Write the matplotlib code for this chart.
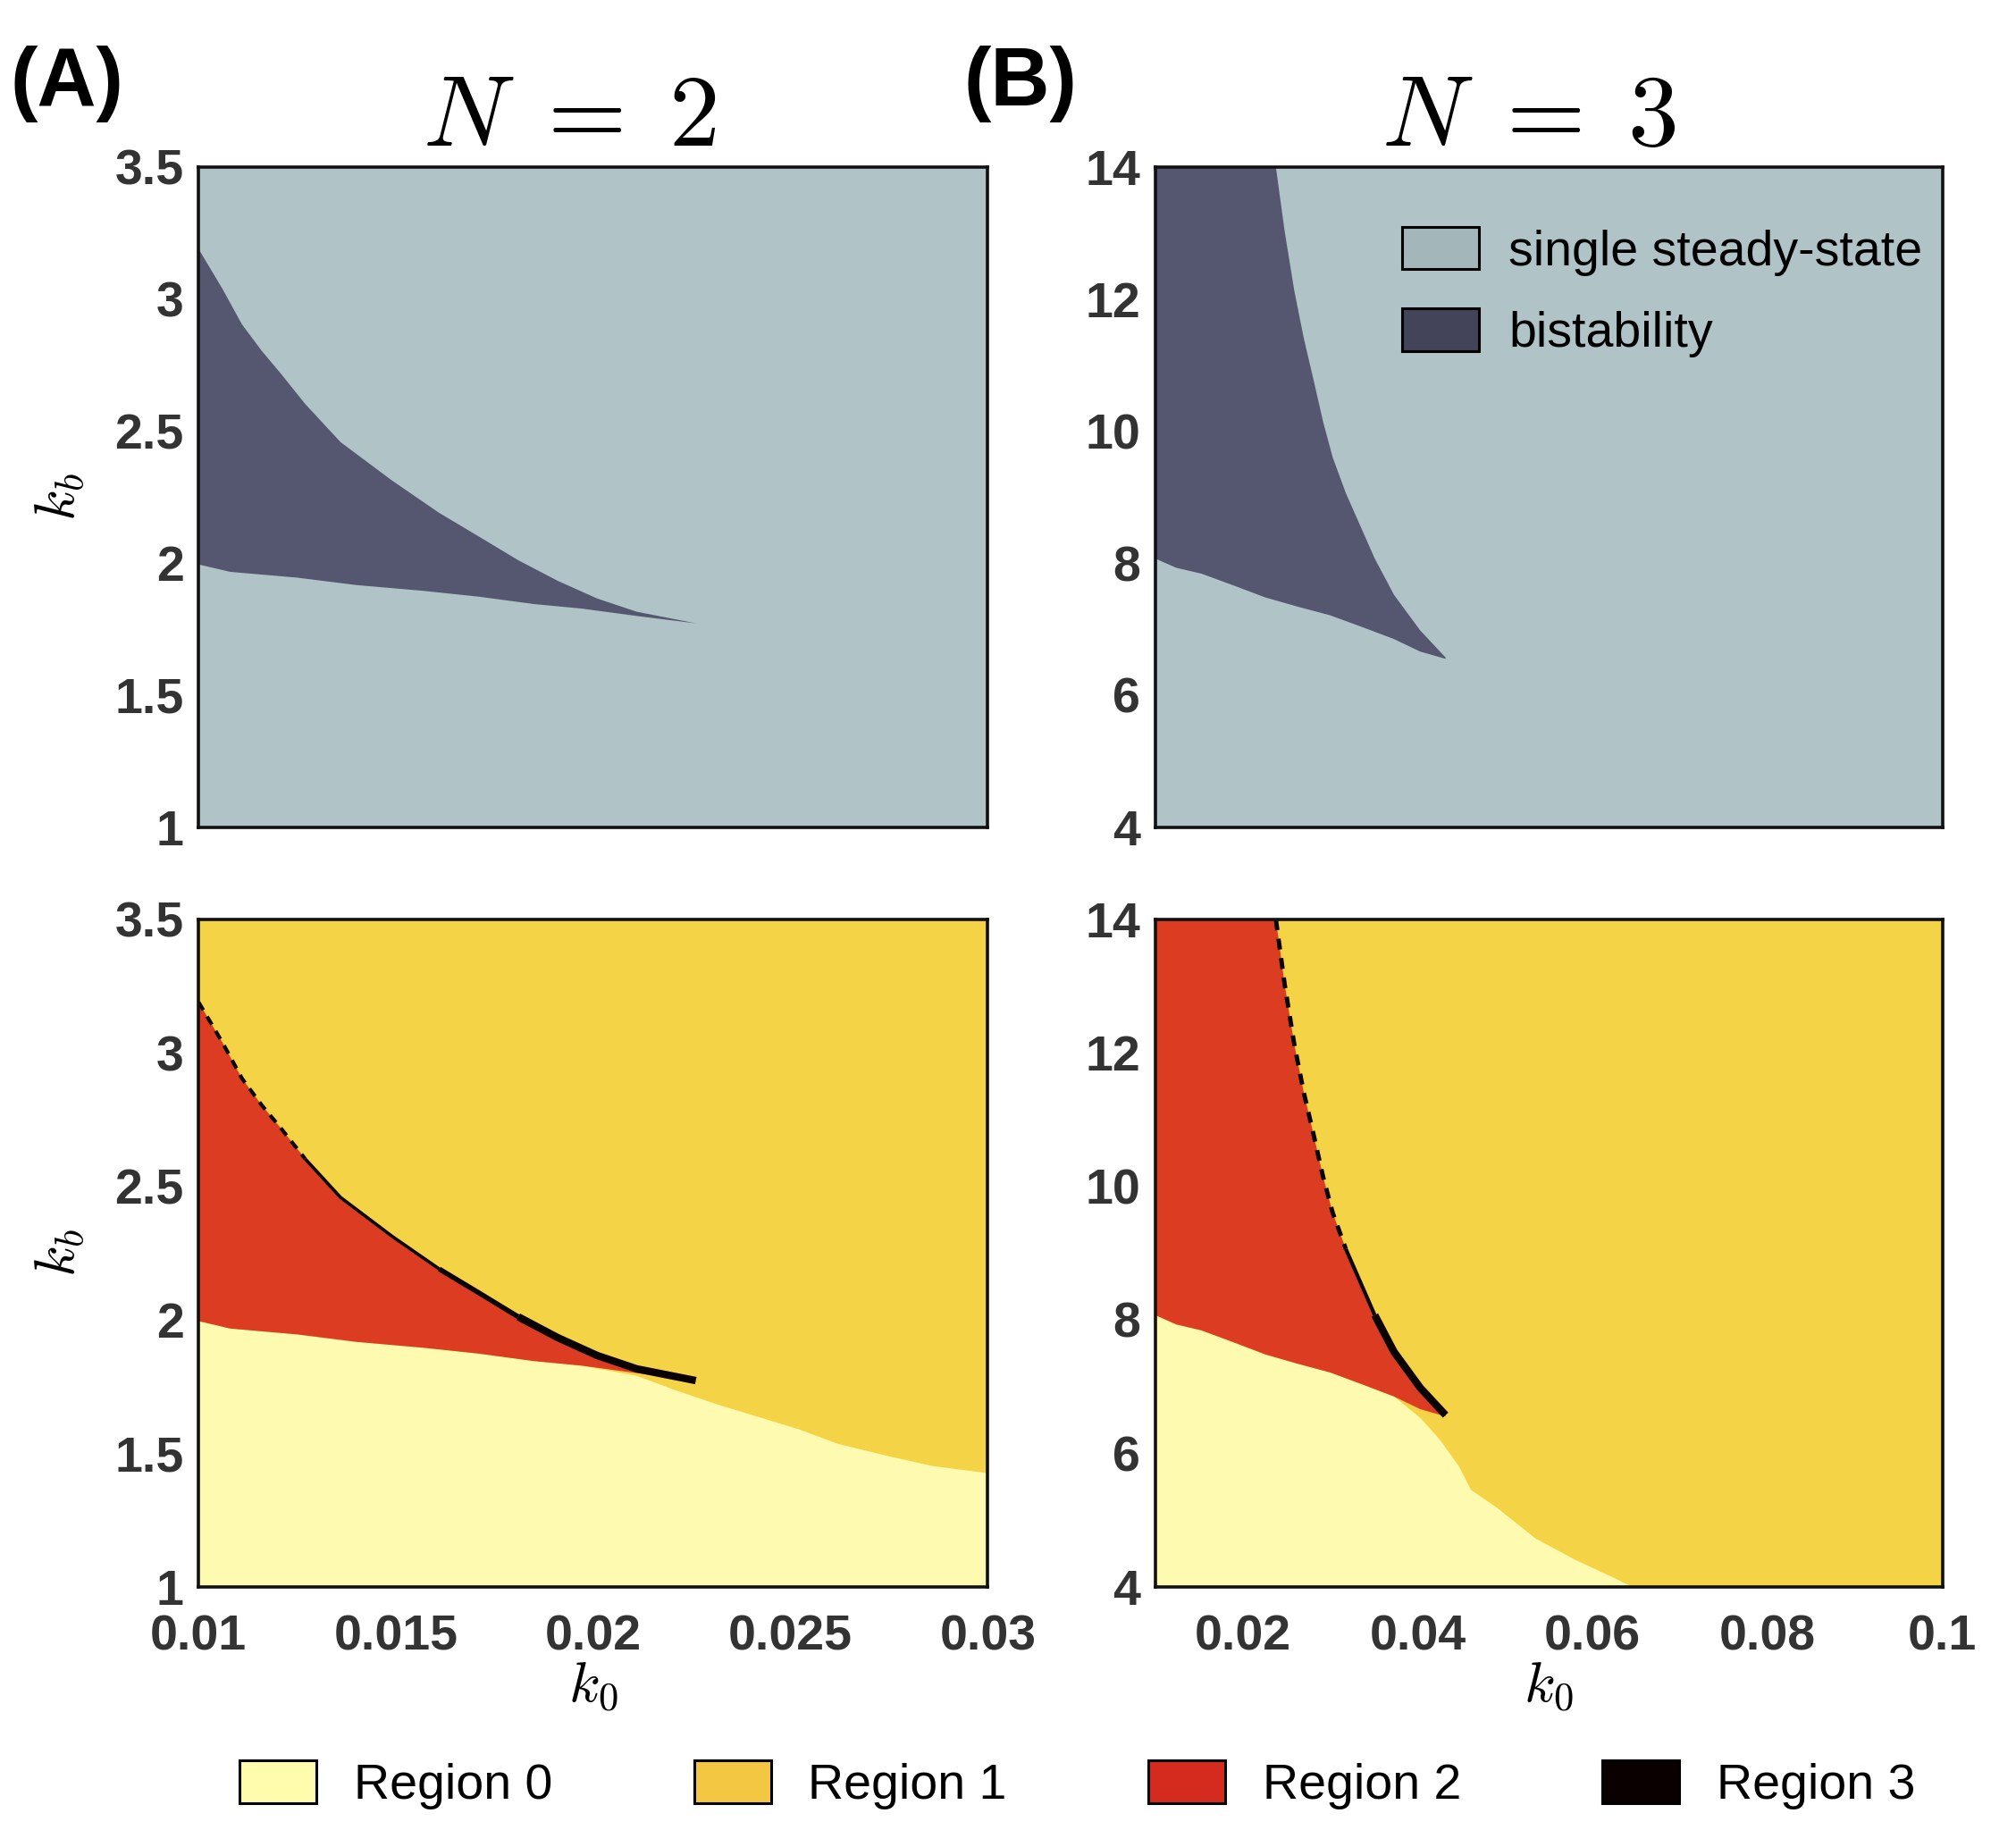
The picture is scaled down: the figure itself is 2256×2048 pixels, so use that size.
import matplotlib
matplotlib.use("Agg")
import matplotlib.pyplot as plt
from matplotlib.patches import Patch

plt.rcParams['font.family'] = ['Liberation Sans', 'DejaVu Sans']
plt.rcParams['mathtext.fontset'] = 'cm'

# ---------------- data ----------------
# N = 2 : boundaries in (k0, kb)
a_upper_k0 = [0.0100, 0.0106, 0.0111, 0.0116, 0.0121, 0.0127, 0.0136, 0.0149, 0.0161,
              0.0171, 0.0181, 0.0191, 0.0201, 0.0211, 0.0226]
a_upper_kb = [3.19, 3.04, 2.904, 2.804, 2.715, 2.603, 2.458, 2.313, 2.19,
              2.101, 2.011, 1.933, 1.866, 1.816, 1.772]
a_lower_k0 = [0.0100, 0.0108, 0.0125, 0.0140, 0.0157, 0.0171, 0.0185, 0.0197, 0.0211, 0.0226]
a_lower_kb = [1.995, 1.967, 1.945, 1.917, 1.895, 1.873, 1.845, 1.828, 1.80, 1.772]
a_r0_k0 = [0.0100, 0.0108, 0.0125, 0.0140, 0.0157, 0.0171, 0.0185, 0.0197, 0.0211,
           0.0221, 0.0232, 0.0242, 0.0252, 0.0262, 0.0275, 0.0286, 0.0300]
a_r0_kb = [1.995, 1.967, 1.945, 1.917, 1.895, 1.873, 1.845, 1.828, 1.79,
           1.735, 1.68, 1.635, 1.59, 1.535, 1.488, 1.452, 1.425]

# N = 3
b_upper_k0 = [0.0100, 0.0238, 0.0248, 0.0259, 0.0270, 0.0281, 0.0292, 0.0303, 0.0318,
              0.0333, 0.0351, 0.0373, 0.0403, 0.0432]
b_upper_kb = [14.0, 14.0, 13.03, 12.13, 11.4, 10.78, 10.14, 9.6, 9.06,
              8.61, 8.07, 7.52, 6.98, 6.57]
b_lower_k0 = [0.0100, 0.0124, 0.0153, 0.0190, 0.0226, 0.0263, 0.0300, 0.0337, 0.0373, 0.0403, 0.0432]
b_lower_kb = [8.07, 7.93, 7.84, 7.66, 7.48, 7.34, 7.21, 7.03, 6.85, 6.66, 6.55]
b_r0_k0 = [0.0100, 0.0124, 0.0153, 0.0190, 0.0226, 0.0263, 0.0300, 0.0337, 0.0373, 0.0403,
           0.0425, 0.0447, 0.0461, 0.0491, 0.0535, 0.0579, 0.0623, 0.0645]
b_r0_kb = [8.07, 7.93, 7.84, 7.66, 7.48, 7.34, 7.21, 7.03, 6.85, 6.53,
           6.21, 5.81, 5.45, 5.18, 4.72, 4.41, 4.14, 4.0]

a_xlim = (0.01, 0.03)
a_ylim = (1.0, 3.5)
b_xlim = (0.01, 0.1)
b_ylim = (4.0, 14.0)
a_xticks = [0.01, 0.015, 0.02, 0.025, 0.03]
a_xticklabels = ["0.01", "0.015", "0.02", "0.025", "0.03"]
a_yticks = [1, 1.5, 2, 2.5, 3, 3.5]
a_yticklabels = ["1", "1.5", "2", "2.5", "3", "3.5"]
b_xticks = [0.02, 0.04, 0.06, 0.08, 0.1]
b_xticklabels = ["0.02", "0.04", "0.06", "0.08", "0.1"]
b_yticks = [4, 6, 8, 10, 12, 14]
b_yticklabels = ["4", "6", "8", "10", "12", "14"]

stab_labels = ["single steady-state", "bistability"]
region_labels = ["Region 0", "Region 1", "Region 2", "Region 3"]

# ---------------- style ----------------
C_SINGLE = '#B0C3C7'
C_BISTAB = '#55566F'
C_SINGLE_LEG = '#A3B6BA'
C_BISTAB_LEG = '#43445A'
C_R0 = '#FEFBB1'
C_R1 = '#F5D347'
C_R2 = '#DC3C22'
C_R3 = '#0A0000'
C_R0_LEG = '#FFFCAE'
C_R1_LEG = '#F4C743'
C_R2_LEG = '#D52B1E'
C_R3_LEG = '#0A0000'
TICK_C = '#333333'

fig = plt.figure(figsize=(22.56, 20.48), dpi=100)

axL = 0.0985
axR_A = 0.490
axL_B = 0.573
axR_B = 0.9635
top_top = 0.9087
top_bot = 0.548
bot_top = 0.4976
bot_bot = 0.133

axA1 = fig.add_axes([axL, top_bot, axR_A - axL, top_top - top_bot])
axB1 = fig.add_axes([axL_B, top_bot, axR_B - axL_B, top_top - top_bot])
axA2 = fig.add_axes([axL, bot_bot, axR_A - axL, bot_top - bot_bot])
axB2 = fig.add_axes([axL_B, bot_bot, axR_B - axL_B, bot_top - bot_bot])


def style(ax, xlim, ylim, xt, xtl, yt, ytl, show_x):
    ax.set_xlim(*xlim)
    ax.set_ylim(*ylim)
    ax.set_yticks(yt)
    ax.set_yticklabels(ytl)
    if show_x:
        ax.set_xticks(xt)
        ax.set_xticklabels(xtl)
    else:
        ax.set_xticks([])
    ax.tick_params(length=0, labelsize=40, labelcolor=TICK_C)
    ax.tick_params(axis='y', pad=12)
    ax.tick_params(axis='x', pad=22)
    for lab in ax.get_xticklabels() + ax.get_yticklabels():
        lab.set_fontweight('bold')
    for sp in ax.spines.values():
        sp.set_linewidth(2.6)
        sp.set_color('#111111')
        sp.set_zorder(10)


def polygon(upper_x, upper_y, lower_x, lower_y):
    px = list(upper_x) + list(lower_x)[::-1]
    py = list(upper_y) + list(lower_y)[::-1]
    return px, py


# ---- top panels (stability) ----
for ax, ux, uy, lx, ly in [
        (axA1, a_upper_k0, a_upper_kb, a_lower_k0, a_lower_kb),
        (axB1, b_upper_k0, b_upper_kb, b_lower_k0, b_lower_kb)]:
    ax.set_facecolor(C_SINGLE)
    px, py = polygon(ux, uy, lx, ly)
    ax.fill(px, py, color=C_BISTAB, lw=0)

# ---- bottom panels (regions) ----
# segments of the region-3 sliver: (start index, end index, linewidth, dashed)
a_r3_style = [(0, 5, 3.0, True), (5, 8, 2.6, False), (8, 10, 4.0, False), (10, 14, 6.0, False)]
b_r3_style = [(1, 8, 3.5, True), (8, 10, 3.0, False), (10, 13, 6.0, False)]

for ax, ux, uy, lx, ly, r0x, r0y, yl, segs in [
        (axA2, a_upper_k0, a_upper_kb, a_lower_k0, a_lower_kb, a_r0_k0, a_r0_kb, a_ylim, a_r3_style),
        (axB2, b_upper_k0, b_upper_kb, b_lower_k0, b_lower_kb, b_r0_k0, b_r0_kb, b_ylim, b_r3_style)]:
    ax.set_facecolor(C_R1)
    # region 0
    r0px = [r0x[0]] + list(r0x) + [r0x[-1]]
    r0py = [yl[0]] + list(r0y) + [yl[0]]
    ax.fill(r0px, r0py, color=C_R0, lw=0)
    # region 2
    px, py = polygon(ux, uy, lx, ly)
    ax.fill(px, py, color=C_R2, lw=0)
    # region 3 along the upper boundary
    for s, e, lw, dashed in segs:
        kw = dict(color=C_R3, lw=lw, solid_capstyle='butt')
        if dashed:
            kw['dashes'] = (2.5, 2.0)
        ax.plot(ux[s:e + 1], uy[s:e + 1], **kw)

style(axA1, a_xlim, a_ylim, a_xticks, a_xticklabels, a_yticks, a_yticklabels, False)
style(axB1, b_xlim, b_ylim, b_xticks, b_xticklabels, b_yticks, b_yticklabels, False)
style(axA2, a_xlim, a_ylim, a_xticks, a_xticklabels, a_yticks, a_yticklabels, True)
style(axB2, b_xlim, b_ylim, b_xticks, b_xticklabels, b_yticks, b_yticklabels, True)

for ax in (axA1, axA2):
    ax.set_ylabel(r'$k_b$', fontsize=46, labelpad=22)
for ax in (axA2, axB2):
    ax.set_xlabel(r'$k_0$', fontsize=46, labelpad=0)

axA1.set_title(r'$N\;=\;2$', fontsize=82, pad=8, x=0.47)
axB1.set_title(r'$N\;=\;3$', fontsize=82, pad=8, x=0.475)

fig.text(0.005, 0.975, '(A)', fontsize=66, fontweight='bold', va='top', ha='left')
fig.text(0.478, 0.975, '(B)', fontsize=66, fontweight='bold', va='top', ha='left')

# legend in top-right panel
h_stab = [Patch(facecolor=C_SINGLE_LEG, edgecolor='black', lw=2.2),
          Patch(facecolor=C_BISTAB_LEG, edgecolor='black', lw=2.2)]
axB1.legend(h_stab, stab_labels, loc='upper right', bbox_to_anchor=(1.0, 0.94),
            frameon=False, fontsize=40, handlelength=1.55, handleheight=0.95,
            handletextpad=0.6, labelspacing=0.65, borderaxespad=0.3, borderpad=0.1)

# bottom legend
h_reg = [Patch(facecolor=c, edgecolor='black', lw=2.2)
         for c in (C_R0_LEG, C_R1_LEG, C_R2_LEG, C_R3_LEG)]
fig.legend(h_reg, region_labels, loc='center', bbox_to_anchor=(0.5345, 0.0245), ncol=4,
           frameon=False, fontsize=40, handlelength=1.55, handleheight=0.95,
           handletextpad=0.75, columnspacing=2.85)

fig.savefig('out.png', dpi=100, facecolor='white')
